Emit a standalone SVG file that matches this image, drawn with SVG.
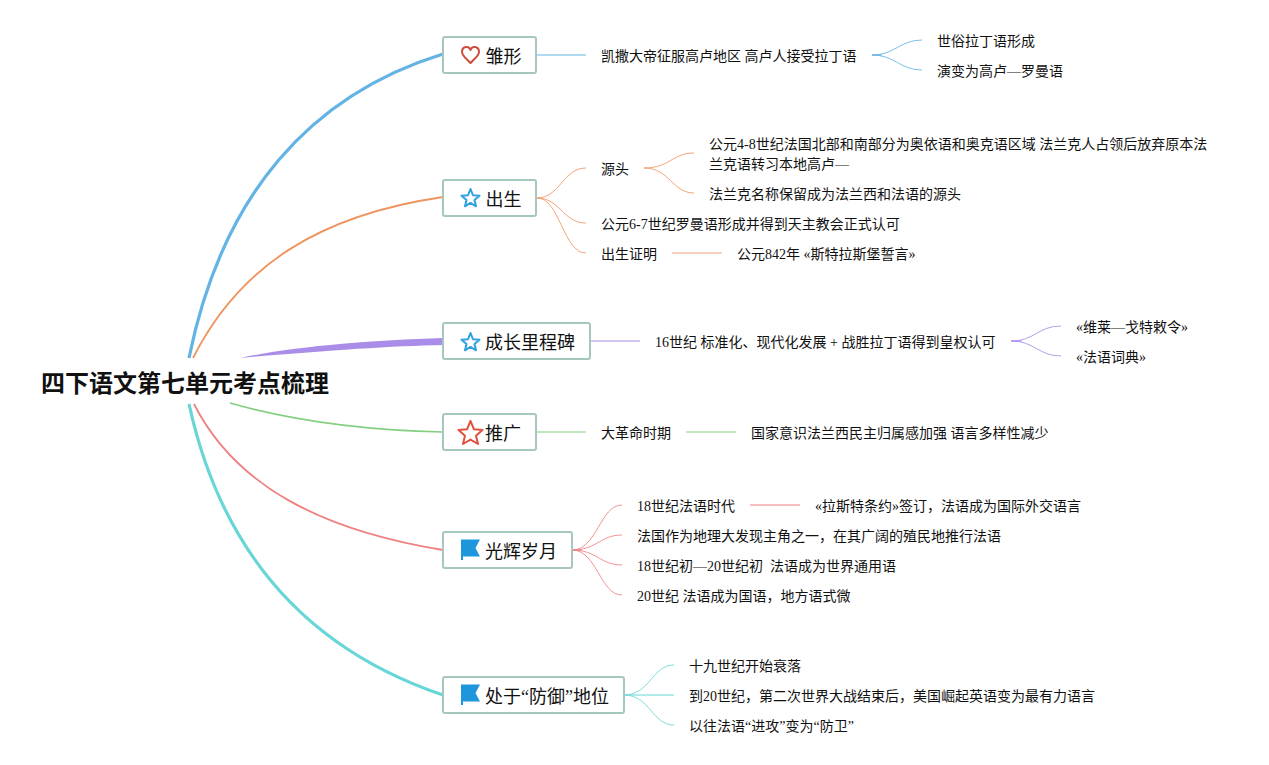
<svg xmlns="http://www.w3.org/2000/svg" width="1269" height="765" viewBox="0 0 1269 765">
<style>
text{font-family:"Liberation Serif","Noto Sans CJK SC",serif;fill:#111}
.t{font-size:14px}
.n{font-size:18px}
.box{fill:#fff;stroke:#a5c7bf;stroke-width:2}
.c{fill:none}
.b{stroke:#63b4e4}.o{stroke:#f0945f}.p{stroke:#a98de8}.g{stroke:#82cf7f}.r{stroke:#ef8080}.q{stroke:#68d6d6}
.m{stroke-width:3.200}
.s{stroke-width:1;opacity:.85}
.l{stroke-width:2;opacity:.5}
.i{stroke-width:2;stroke-linejoin:round;fill:#fff}
</style>
<g id="connectors" class="c">
<path class="c b m" d="M189 358C222 195 310 95 443 54"/>
<path class="c o" stroke-width="1.800" d="M193 358C240 265 320 215 443 197"/>
<path d="M240 358C290 347 370 340 443 338V345C390 346 320 351 240 358Z" fill="#a98de8"/>
<path class="c g" stroke-width="1.700" d="M230 403C290 420 360 430 443 432"/>
<path class="c r" stroke-width="1.800" d="M194 404C235 485 320 530 443 550"/>
<path class="c q m" d="M189 404C222 555 310 650 443 695"/>
<path class="c b l" d="M536 55H586"/>
<path class="c b s" d="M872 55C895 55 900 40 922 40M872 55C895 55 900 70 922 70"/>
<path class="c b l" d="M872 55H882"/>
<path class="c o s" d="M537 198C560 198 563 168 586 168M537 198C560 198 563 223 586 223M537 198C560 198 563 253 586 253"/>
<path class="c o s" d="M644 168C670 168 672 153 694 153M644 168C670 168 672 193 694 193"/>
<path class="c o s" d="M672 253H722"/>
<path class="c p l" d="M590 341H640"/>
<path class="c p s" d="M1011 341C1035 341 1038 326 1061 326M1011 341C1035 341 1038 356 1061 356"/>
<path class="c p l" d="M1011 341H1022"/>
<path class="c g l" d="M536 432H586"/>
<path class="c g l" d="M686 432H736"/>
<path class="c r s" d="M572 550C597 550 600 505 622 505M572 550C597 550 600 535 622 535M572 550C597 550 600 565 622 565M572 550C597 550 600 595 622 595"/>
<path class="c r l" d="M572 550H582"/>
<path class="c r l" d="M750 505H800"/>
<path class="c q s" d="M624 695C650 695 652 665 674 665M624 695C650 695 652 725 674 725"/>
<path class="c q l" d="M624 695H674"/>
</g>
<g id="root"><text x="41" y="392" font-size="24" font-weight="700" style="font-family:'Liberation Sans','Noto Sans CJK SC',sans-serif">四下语文第七单元考点梳理</text></g>
<g id="n1">
<rect class="box" x="443" y="37" width="93" height="36" rx="2"/>
<path class="i" d="M470.500 63C466 58.500 462 55.500 462 52C462 46 469 45.500 470.500 50C472 45.500 479 46 479 52C479 55.500 475 58.500 470.500 63Z" stroke="#d04a3a"/>
<text class="n" x="485.500" y="63">雏形</text>
</g>
<g id="n1a"><text class="t" x="601" y="61">凯撒大帝征服高卢地区 高卢人接受拉丁语</text></g>
<g id="n1b"><text class="t" x="937" y="46">世俗拉丁语形成</text></g>
<g id="n1c"><text class="t" x="937" y="76">演变为高卢—罗曼语</text></g>
<g id="n2">
<rect class="box" x="443" y="180" width="93" height="36" rx="2"/>
<path class="i" d="M470.500 189L473 195.200L479.500 195.700L474.500 199.900L476 206.300L470.500 202.900L465 206.300L466.500 199.900L461.500 195.700L468 195.200Z" stroke="#30a0e0"/>
<text class="n" x="485.500" y="206">出生</text>
</g>
<g id="n2a"><text class="t" x="601" y="174">源头</text></g>
<g id="n2a1"><text class="t" x="709" y="149">公元4-8世纪法国北部和南部分为奥依语和奥克语区域 法兰克人占领后放弃原本法</text><text class="t" x="709" y="169">兰克语转习本地高卢—</text></g>
<g id="n2a2"><text class="t" x="709" y="199">法兰克名称保留成为法兰西和法语的源头</text></g>
<g id="n2b"><text class="t" x="601" y="229">公元6-7世纪罗曼语形成并得到天主教会正式认可</text></g>
<g id="n2c"><text class="t" x="601" y="259">出生证明</text></g>
<g id="n2c1"><text class="t" x="737" y="259">公元842年 «斯特拉斯堡誓言»</text></g>
<g id="n3">
<rect class="box" x="443" y="323" width="147" height="36" rx="2"/>
<path class="i" d="M470.500 333L473 339.200L479.500 339.700L474.500 343.900L476 350.300L470.500 346.900L465 350.300L466.500 343.900L461.500 339.700L468 339.200Z" stroke="#30a0e0"/>
<text class="n" x="485" y="349">成长里程碑</text>
</g>
<g id="n3a"><text class="t" x="655" y="347">16世纪 标准化、现代化发展 + 战胜拉丁语得到皇权认可</text></g>
<g id="n3b"><text class="t" x="1076" y="332">«维莱—戈特敕令»</text></g>
<g id="n3c"><text class="t" x="1076" y="362">«法语词典»</text></g>
<g id="n4">
<rect class="box" x="443" y="414" width="93" height="36" rx="2"/>
<path class="i" d="M470.500 421L474 429.300L482.500 430L476 435.700L478 444L470.500 439.600L463 444L465 435.700L458.500 430L467 429.300Z" stroke="#e0503f"/>
<text class="n" x="485" y="440">推广</text>
</g>
<g id="n4a"><text class="t" x="601" y="438">大革命时期</text></g>
<g id="n4b"><text class="t" x="751" y="438">国家意识法兰西民主归属感加强 语言多样性减少</text></g>
<g id="n5">
<rect class="box" x="443" y="532" width="129" height="36" rx="2"/>
<path d="M461 539.500H480L475.500 548L480 556.500H463V560H461Z" fill="#1e96dc"/>
<text class="n" x="485" y="558">光辉岁月</text>
</g>
<g id="n5a"><text class="t" x="637" y="511">18世纪法语时代</text></g>
<g id="n5a1"><text class="t" x="815" y="511">«拉斯特条约»签订，法语成为国际外交语言</text></g>
<g id="n5b"><text class="t" x="637" y="541">法国作为地理大发现主角之一，在其广阔的殖民地推行法语</text></g>
<g id="n5c"><text class="t" x="637" y="571" xml:space="preserve">18世纪初—20世纪初  法语成为世界通用语</text></g>
<g id="n5d"><text class="t" x="637" y="601">20世纪 法语成为国语，地方语式微</text></g>
<g id="n6">
<rect class="box" x="443" y="677" width="181" height="36" rx="2"/>
<path d="M461 684.500H480L475.500 693L480 701.500H463V705H461Z" fill="#1e96dc"/>
<text class="n" x="485" y="703">处于“防御”地位</text>
</g>
<g id="n6a"><text class="t" x="689" y="671">十九世纪开始衰落</text></g>
<g id="n6b"><text class="t" x="689" y="701">到20世纪，第二次世界大战结束后，美国崛起英语变为最有力语言</text></g>
<g id="n6c"><text class="t" x="689" y="731">以往法语“进攻”变为“防卫”</text></g>
</svg>
